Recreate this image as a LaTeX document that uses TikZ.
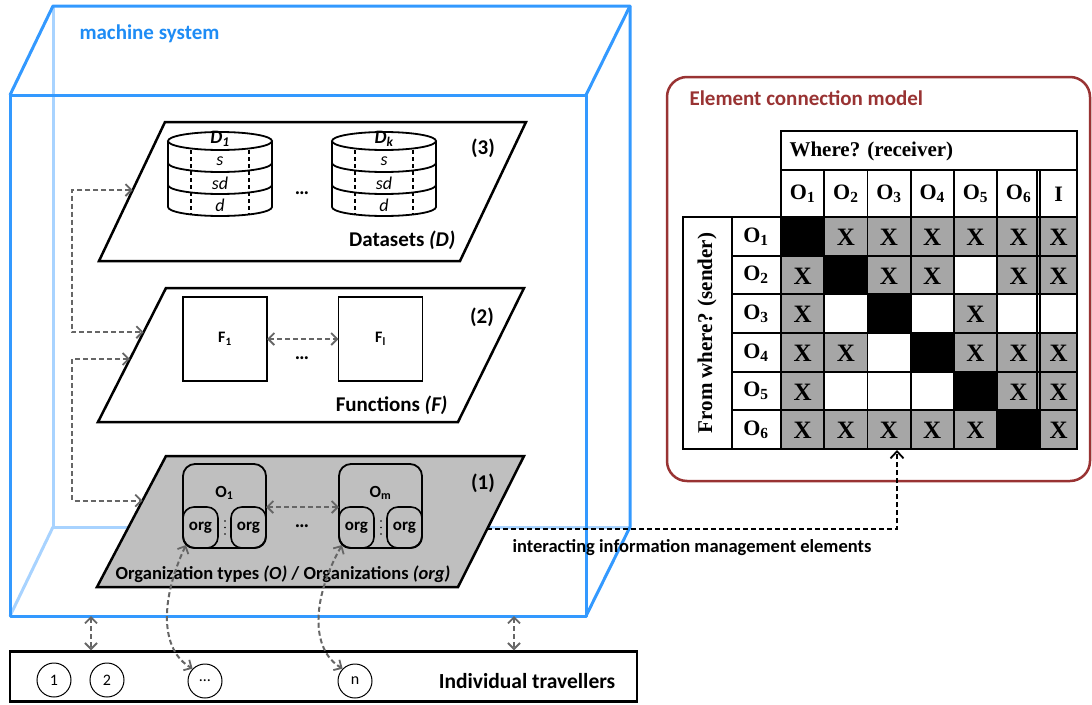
\documentclass[tikz,border=0pt]{standalone}
\usepackage{fontspec}
\setmainfont{Carlito}
\newfontfamily\tabserif{Liberation Serif}
\usetikzlibrary{arrows.meta,calc}

\definecolor{cubeblue}{HTML}{3399FF}
\definecolor{cubelight}{HTML}{A8D3FF}
\definecolor{labelblue}{HTML}{1E8CF5}
\definecolor{modelred}{HTML}{993333}
\definecolor{arrowgray}{HTML}{666666}
\definecolor{layergray}{HTML}{BFBFBF}
\definecolor{cellgray}{HTML}{A6A6A6}

\newcommand{\fsz}[1]{\fontsize{#1}{#1}\selectfont}
\def\markX{X}\def\markB{}\def\markW{}

% one dataset cylinder: centre x, label
\newcommand{\dbstack}[2]{%
  \begin{scope}[shift={(#1,0)}]
    \draw[cyl] (-52,141) -- (-52,207)
      arc[start angle=180,end angle=0,x radius=52,y radius=9] -- (52,141);
    \draw[cyl] (0,141) ellipse[x radius=52,y radius=9];
    \draw[cyl] (-52,163) arc[start angle=180,end angle=0,x radius=52,y radius=9];
    \draw[cyl] (-52,185) arc[start angle=180,end angle=0,x radius=52,y radius=9];
    \draw[cyldash] (-29,150) -- (-29,214);
    \draw[cyldash] (29,150) -- (29,214);
    \node[font=\fsz{19}\bfseries\itshape] at (0,139) {#2};
    \node[font=\fsz{18}\itshape] at (0,161) {s};
    \node[font=\fsz{18}\itshape] at (0,183) {sd};
    \node[font=\fsz{18}\itshape] at (0,205) {d};
  \end{scope}}

\begin{document}
\begin{tikzpicture}[x=1pt,y=-1pt,
  cube/.style={draw=cubeblue,line width=3pt,line join=round},
  cubehid/.style={draw=cubelight,line width=3pt,line join=round},
  layer/.style={draw=black,line width=2.5pt,line join=miter},
  cyl/.style={draw=black,line width=1.8pt},
  cyldash/.style={draw=black,line width=1.2pt,dash pattern=on 4pt off 3pt},
  fbox/.style={draw=black,line width=1.8pt,minimum width=84pt,minimum height=84pt,
    inner sep=0pt,outer sep=0pt,font=\fsz{16}\bfseries},
  obox/.style={draw=black,line width=1.8pt,minimum width=83pt,minimum height=84pt,
    rounded corners=12pt,inner sep=0pt,outer sep=0pt},
  orgbox/.style={draw=black,line width=1.6pt,minimum width=35pt,minimum height=41pt,
    rounded corners=11pt,inner sep=0pt,outer sep=0pt,font=\fsz{17}\bfseries,anchor=south west},
  gtip/.tip={Straight Barb[length=6pt,width=12pt,line width=1.8pt]},
  gdash/.style={draw=arrowgray,line width=2pt,dash pattern=on 5pt off 3pt,gtip-gtip},
  trv/.style={draw=black,circle,line width=1pt,minimum size=34pt,inner sep=0pt,font=\fsz{16}},
  cellB/.style={fill=black},
  cellX/.style={fill=cellgray},
  cellW/.style={fill=white},
  xmark/.style={font=\tabserif\bfseries\fsz{25}},
  thead/.style={font=\tabserif\bfseries\fsz{21}},
  layertxt/.style={font=\fsz{21}\bfseries},
]
\useasboundingbox (0,0) rectangle (1092,704);

% ---- machine system cube ----
\draw[cubehid] (53,6) -- (53,527) -- (630,527);
\draw[cubehid] (53,527) -- (10,616);
\draw[cube] (10,95) -- (53,6) -- (630,6) -- (630,527) -- (586,616);
\draw[cube] (586,95) -- (630,6);
\draw[cube] (10,95) rectangle (586,616);
\node[anchor=west,text=labelblue,font=\fsz{21}\bfseries] (mslabel) at (76,34) {machine system};

% ---- layer (3): datasets ----
\coordinate (d1) at (165,122); \coordinate (d2) at (526,122);
\coordinate (d3) at (460,261); \coordinate (d4) at (99,261);
\draw[layer,fill=white] (d1) -- (d2) -- (d3) -- (d4) -- cycle;
\dbstack{220}{D\textsubscript{1}}
\dbstack{384}{D\textsubscript{k}}
\node[font=\fsz{20}\bfseries] (ddots) at (302,193) {\ldots};
\node[layertxt] (l3) at (483,148) {(3)};
\node[layertxt,anchor=east] (dlabel) at (459,240) {Datasets \textit{(D)}};

% ---- layer (2): functions ----
\coordinate (f1) at (166,288); \coordinate (f2) at (524,288);
\coordinate (f3) at (458,422); \coordinate (f4) at (98,422);
\draw[layer,fill=white] (f1) -- (f2) -- (f3) -- (f4) -- cycle;
\node[fbox] (F1) at (225,339) {F\textsubscript{1}};
\node[fbox] (Fl) at (380.5,339) {F\textsubscript{l}};
\draw[gdash] (F1.east) -- (Fl.west);
\node[font=\fsz{20}\bfseries] (fdots) at (302,358) {\ldots};
\node[layertxt] (l2) at (482,317) {(2)};
\node[layertxt,anchor=east] (flabel) at (451,405) {Functions \textit{(F)}};

% ---- layer (1): organisations ----
\coordinate (o1) at (166,456); \coordinate (o2) at (524,456);
\coordinate (o3) at (458,587); \coordinate (o4) at (97,587);
\draw[layer,fill=layergray] (o1) -- (o2) -- (o3) -- (o4) -- cycle;
\node[obox] (O1) at (224.5,506) {};
\node[obox] (Om) at (380.5,506) {};
\node[font=\fsz{17}\bfseries] at ($(O1.north)+(0,29)$) {O\textsubscript{1}};
\node[font=\fsz{17}\bfseries] at ($(Om.north)+(0,29)$) {O\textsubscript{m}};
\node[orgbox] (O1a) at (O1.south west) {org};
\node[orgbox,anchor=south east] (O1b) at (O1.south east) {org};
\node[orgbox] (Oma) at (Om.south west) {org};
\node[orgbox,anchor=south east] (Omb) at (Om.south east) {org};
\foreach \cx in {225,381}{
  \foreach \dy in {521,527.5,534}{\fill (\cx,\dy) circle[radius=0.9];}}
\draw[gdash] (O1.east |- O1a.north) -- (Om.west |- O1a.north);
\node[font=\fsz{20}\bfseries] (odots) at (302,526) {\ldots};
\node[layertxt] (l1) at (483,483) {(1)};
\node[font=\fsz{18.5}\bfseries] (olabel) at (283,574) {Organization types \textit{(O)} / Organizations \textit{(org)}};

% ---- links between layers ----
\coordinate (lx) at (72,0);
\coordinate (dA) at ($(d1)!0.49!(d4)$);
\coordinate (fA) at ($(f1)!0.33!(f4)$);
\coordinate (fB) at ($(f1)!0.53!(f4)$);
\coordinate (oA) at ($(o1)!0.34!(o4)$);
\draw[gdash] (dA) -- (dA -| lx) -- (fA -| lx) -- (fA);
\draw[gdash] (fB) -- (fB -| lx) -- (oA -| lx) -- (oA);

% ---- individual travellers ----
\node[draw=black,line width=2.5pt,minimum width=627pt,minimum height=50pt,inner sep=0pt] (trav) at (323.5,676.5) {};
\node[trv] (t1) at (54,680) {1};
\node[trv] (t2) at (107,680) {2};
\node[trv] (t3) at (205,681) {\ldots};
\node[trv] (tn) at (355,681) {n};
\node[font=\fsz{21.5}\bfseries] (tlabel) at (527,681) {Individual travellers};
\coordinate (cb1) at (91,616);
\coordinate (cb2) at (514,616);
\draw[gdash] (cb1) -- (cb1 |- trav.north);
\draw[gdash] (cb2) -- (cb2 |- trav.north);
\draw[gdash] ($(O1.south west)+(3,-3)$) .. controls (160,600) and (160,650) .. (t3.north west);
\draw[gdash] ($(Om.south west)+(3,-3)$) .. controls (311,600) and (311,650) .. (tn.north west);

% ---- element connection model ----
\node[draw=modelred,line width=2.5pt,rounded corners=20pt,minimum width=423pt,
  minimum height=404pt,inner sep=0pt] (ecm) at (878.5,279) {};
\node[anchor=west,text=modelred,font=\fsz{21}\bfseries] (ecmtitle) at (686,98) {Element connection model};

\foreach \rowcells [count=\j from 0] in
  {{B,X,X,X,X,X,X},{X,B,X,X,W,X,X},{X,W,B,W,X,W,W},
   {X,X,W,B,X,X,X},{X,W,W,W,B,X,X},{X,X,X,X,X,B,X}}{
  \foreach \c [count=\i from 0] in \rowcells {
    \pgfmathsetmacro\xa{781+43.2*\i}
    \pgfmathsetmacro\xb{ifthenelse(\i<6,781+43.2*(\i+1),1077)}
    \pgfmathsetmacro\ya{217+38.667*\j}
    \pgfmathsetmacro\yb{217+38.667*(\j+1)}
    \path[cell\c] (\xa,\ya) rectangle (\xb,\yb);
    \node[xmark] at ({(\xa+\xb)/2},{(\ya+\yb)/2+1}) {\csname mark\c\endcsname};
  }
}
% grid
\begin{scope}[line width=1.8pt]
  \draw (781,131) rectangle (1077,170);
  \draw (781,170) rectangle (1077,449);
  \draw (683,217) rectangle (781,449);
  \draw (732,217) -- (732,449);
  \foreach \k in {1,...,5}{\draw (732,217+38.667*\k) -- (1077,217+38.667*\k);}
  \draw (781,217) -- (1077,217);
  \foreach \k in {1,...,6}{\draw (781+43.2*\k,170) -- (781+43.2*\k,449);}
  \draw (1036.6,170) -- (1036.6,449);
\end{scope}
\node[thead,anchor=west] (where) at (786,151) {Where? (receiver)};
\foreach \k in {1,...,6}{
  \node[thead,font=\tabserif\bfseries\fsz{22}] at (781+43.2*\k-21.6,194) {O\textsubscript{\k}};
  \node[thead,font=\tabserif\bfseries\fsz{22}] at (756,217+38.667*\k-19.3) {O\textsubscript{\k}};
}
\node[thead,font=\tabserif\bfseries\fsz{22}] at (1058.6,194) {I};
\node[thead,rotate=90] (from) at (707,333) {From where? (sender)};
\coordinate (tbl) at (897,450);

% ---- interacting elements link ----
\coordinate (oR) at ($(o2)!0.56!(o3)$);
\draw[black,line width=2pt,dash pattern=on 5pt off 3pt,
  -{Straight Barb[length=7pt,width=13pt,line width=1.8pt]}] (oR) -| (tbl);
\node[font=\fsz{18.5}\bfseries] (ielabel) at (692,548) {interacting information management elements};
\end{tikzpicture}
\end{document}
